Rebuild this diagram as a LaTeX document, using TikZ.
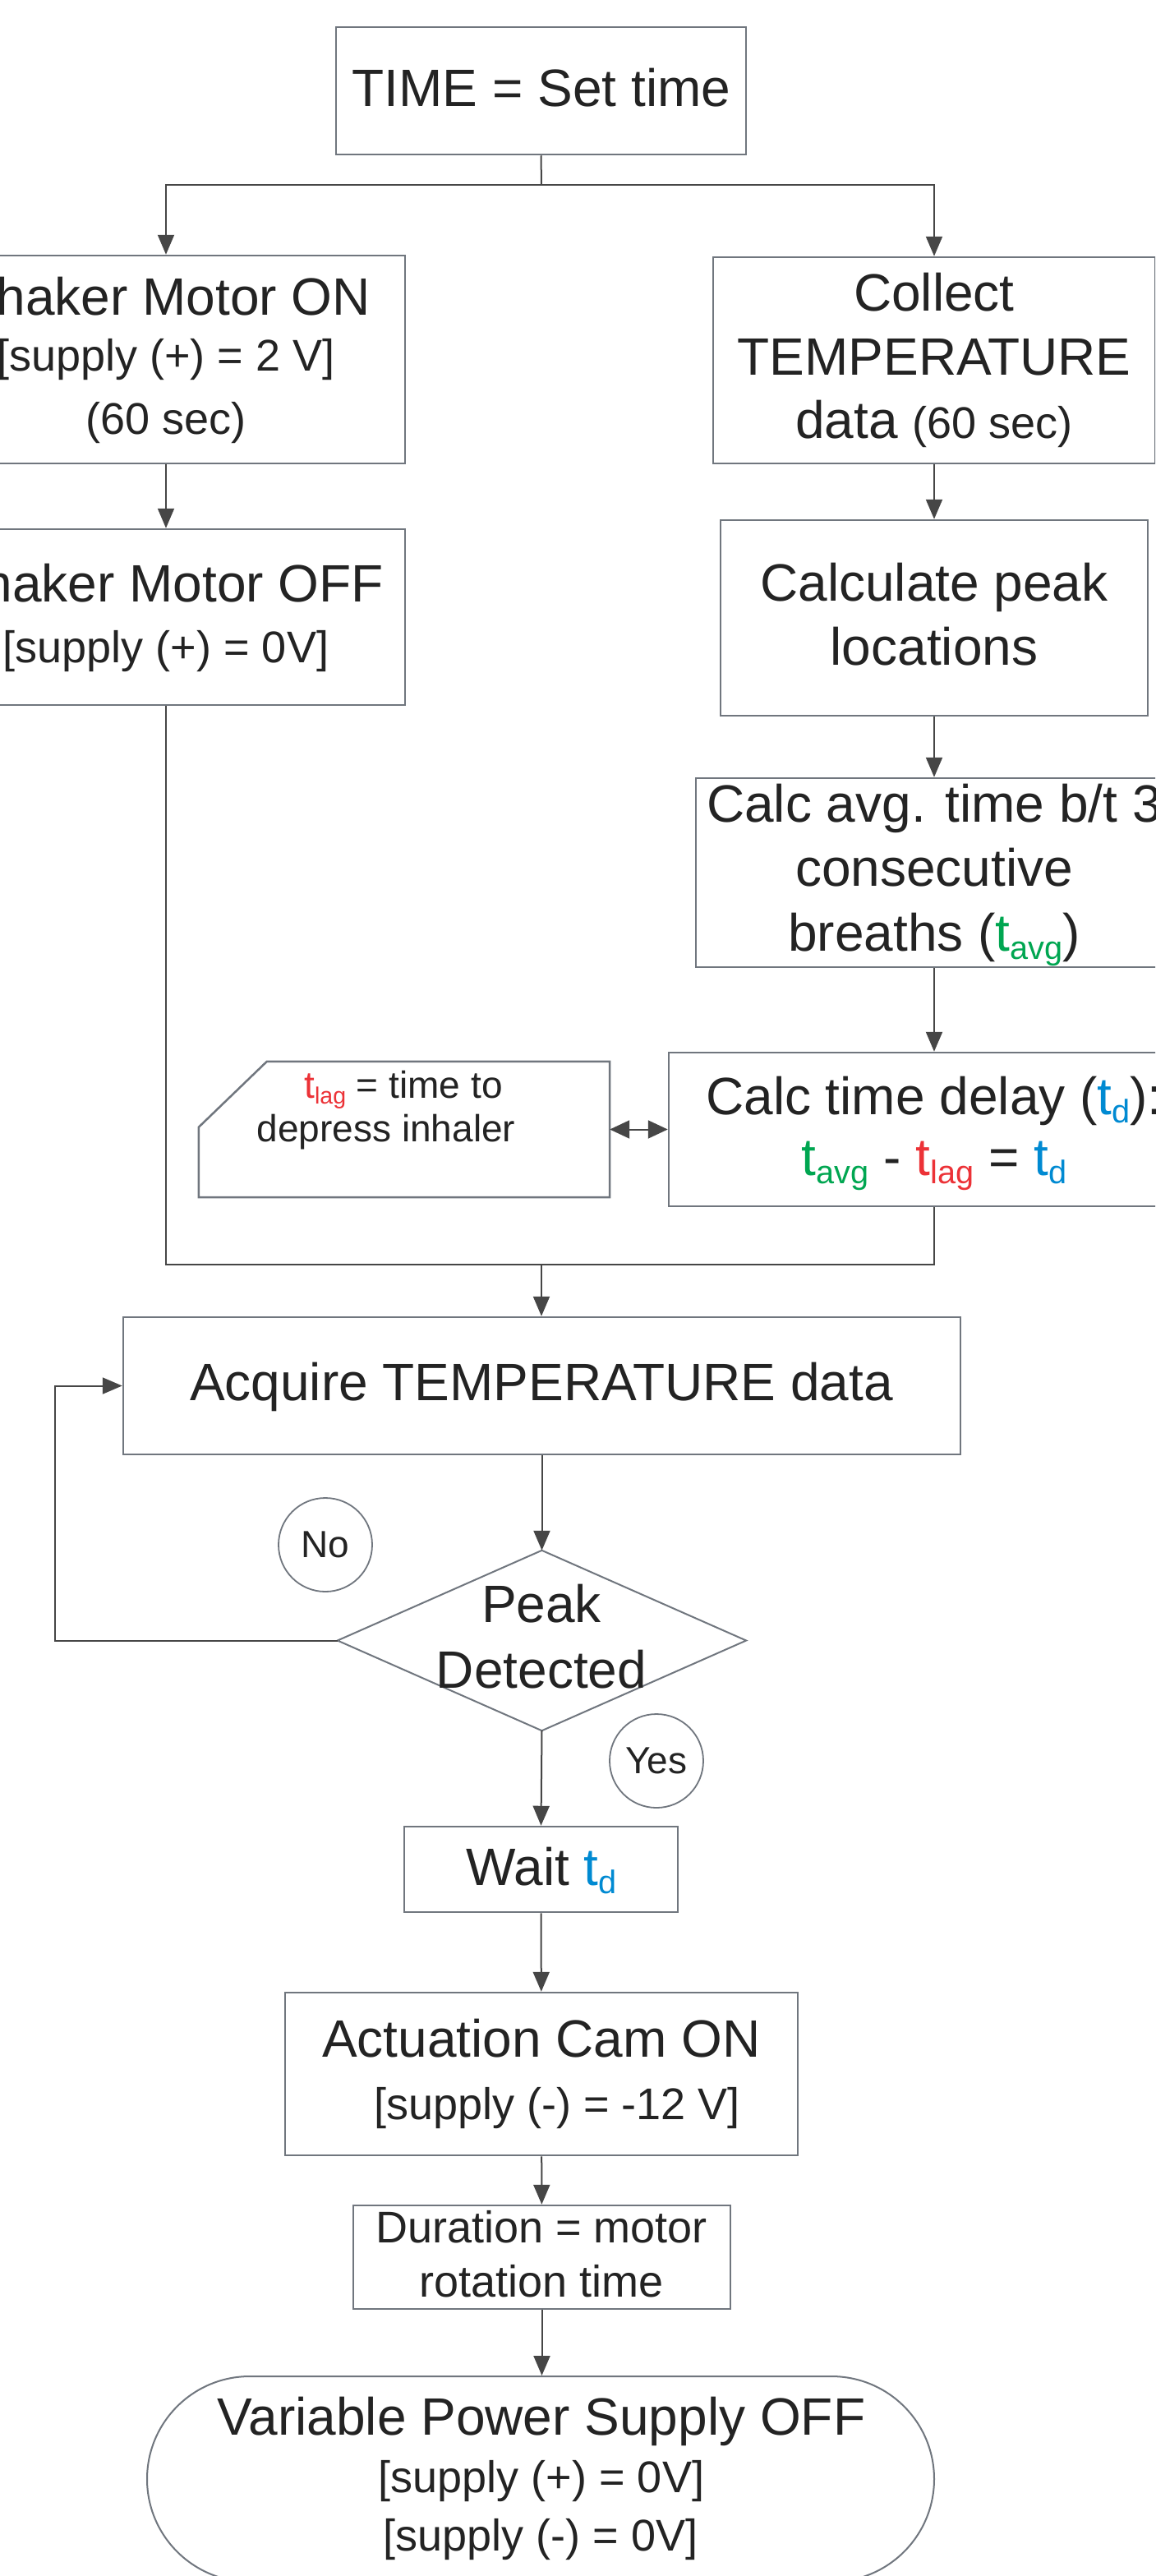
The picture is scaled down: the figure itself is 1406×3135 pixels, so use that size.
\documentclass[tikz,border=0pt]{standalone}
\usepackage{fontspec}
\setmainfont{Liberation Sans}
\usepackage{graphicx}
\usetikzlibrary{arrows.meta,shapes.misc}
\definecolor{boxc}{RGB}{112,118,126}
\definecolor{linec}{RGB}{70,70,70}
\definecolor{textc}{RGB}{35,35,35}
\definecolor{tgreen}{RGB}{0,166,81}
\definecolor{tred}{RGB}{236,50,55}
\definecolor{tblue}{RGB}{0,138,210}
\newcommand\fsL{\fontsize{64}{70}\selectfont}
\newcommand\fsM{\fontsize{54}{60}\selectfont}
\newcommand\fsS{\fontsize{46}{52}\selectfont}
\newcommand\tv[2]{\textcolor{#1}{t\raisebox{-0.16em}{\scalebox{0.62}{#2}}}}
\begin{document}
\begin{tikzpicture}[x=1pt,y=-1pt,
  shapeline/.style={draw=boxc, line width=2.5pt, fill=white},
  box/.style={shapeline, inner sep=0pt, rectangle},
  conn/.style={draw=linec, line width=2pt},
  arr/.style={conn, -{Triangle[length=24pt,width=20pt]}},
  dbl/.style={conn, {Triangle[length=24pt,width=22pt]}-{Triangle[length=24pt,width=22pt]}},
  txt/.style={inner sep=0pt, anchor=base, text=textc},
  bubble/.style={draw=boxc, line width=1.8pt, circle, minimum size=114pt, inner sep=0pt, text=textc, font=\fsS}]
\useasboundingbox (0,0) rectangle (1406,3135);
\clip (0,0) rectangle (1406,3135);
\fill[white] (0,0) rectangle (1406,3135);

% shapes
\node[box, minimum width=499pt, minimum height=155pt] (time) at (658.5,110.5) {};
\node[box, minimum width=582pt, minimum height=253pt] (shon) at (202,437.5) {};
\node[box, minimum width=582pt, minimum height=214pt] (shoff) at (202,751) {};
\node[box, minimum width=538pt, minimum height=251pt] (coll) at (1137,438.5) {};
\node[box, minimum width=520pt, minimum height=238pt] (peak) at (1137,752) {};
\node[box, minimum width=580pt, minimum height=230pt] (avg) at (1137,1062) {};
\node[box, minimum width=646pt, minimum height=187pt] (delay) at (1137,1374.5) {};
\node[inner sep=0pt, minimum width=500pt, minimum height=165pt] (lag) at (492,1374.5) {};
\draw[shapeline] ([xshift=83pt]lag.north west) -- (lag.north east) -- (lag.south east)
  -- (lag.south west) -- ([yshift=-80pt]lag.north west) -- cycle;
\node[box, minimum width=1019pt, minimum height=167pt] (acq) at (659.5,1686.5) {};
\node[inner sep=0pt, minimum width=497pt, minimum height=219pt] (det) at (659.5,1996.5) {};
\draw[shapeline, line width=2pt] (det.north) -- (det.east) -- (det.south) -- (det.west) -- cycle;
\node[bubble] (no) at (396,1880) {No};
\node[bubble] (yes) at (799,2143) {Yes};
\node[box, minimum width=333pt, minimum height=104pt] (wait) at (658.5,2275) {};
\node[box, minimum width=624pt, minimum height=198pt] (act) at (659,2524) {};
\node[box, minimum width=459pt, minimum height=126pt] (dur) at (659.5,2747) {};
\node[shapeline, line width=2pt, rounded rectangle, minimum width=958pt, minimum height=250pt, inner sep=0pt] (term) at (658,3017) {};

% connectors
\coordinate (split) at (659,225);
\draw[conn] (time.south) -- (split);
\draw[arr] (split) -| (shon.north);
\draw[arr] (split) -| (coll.north);
\draw[arr] (shon) -- (shoff);
\draw[arr] (coll) -- (peak);
\draw[arr] (peak) -- (avg);
\draw[arr] (avg) -- (delay);
\draw[dbl] (lag.east) -- (delay.west);
\coordinate (merge) at (659,1539);
\draw[conn] (shoff.south) |- (merge);
\draw[conn] (delay.south) |- (merge);
\draw[arr] (merge) -- (merge |- acq.north);
\draw[arr] (acq.south) -- (det.north);
\coordinate (loop) at (67,1996.5);
\draw[arr] (det.west) -- (loop) |- (acq.west);
\draw[arr] (det.south) -- (wait.north);
\draw[arr] (wait) -- (act);
\draw[arr] (act) -- (dur);
\draw[arr] (dur.south) -- (dur.south |- term.north);

% texts
\node[txt, font=\fsL] (timeT) at (659,129) {TIME = Set time};
\node[txt, font=\fsL] (shonT1) at (202,383) {Shaker Motor ON};
\node[txt, font=\fsM] (shonT2) at (202,451) {[supply (+) = 2 V]};
\node[txt, font=\fsM] (shonT3) at (202,528) {(60 sec)};
\node[txt, font=\fsL] (shoffT1) at (202,732) {Shaker Motor OFF};
\node[txt, font=\fsM] (shoffT2) at (202,806) {[supply (+) = 0V]};
\node[txt, font=\fsL] (collT1) at (1137,378) {Collect};
\node[txt, font=\fsL] (collT2) at (1137,456) {TEMPERATURE};
\node[txt, font=\fsL] (collT3) at (1137,533) {data {\fsM(60 sec)}};
\node[txt, font=\fsL] (peakT1) at (1137,731) {Calculate peak};
\node[txt, font=\fsL] (peakT2) at (1137,809) {locations};
\node[txt, font=\fsL] (avgT1) at (1137,1000) {Calc avg. time b/t 3};
\node[txt, font=\fsL] (avgT2) at (1137,1078) {consecutive};
\node[txt, font=\fsL] (avgT3) at (1137,1157) {breaths (\tv{tgreen}{avg})};
\node[txt, font=\fsL] (delayT1) at (1137,1356) {Calc time delay (\tv{tblue}{d}):};
\node[txt, font=\fsL] (delayT2) at (1137,1430) {\tv{tgreen}{avg} - \tv{tred}{lag} = \tv{tblue}{d}};
\node[txt, font=\fsS] (lagT1) at (491,1336) {\tv{tred}{lag} = time to};
\node[txt, font=\fsS] (lagT2) at (470,1389) {depress inhaler};
\node[txt, font=\fsL] (acqT) at (659,1704) {Acquire TEMPERATURE data};
\node[txt, font=\fsL] (detT1) at (659,1974) {Peak};
\node[txt, font=\fsL] (detT2) at (659,2054) {Detected};
\node[txt, font=\fsL] (waitT) at (659,2294) {Wait \tv{tblue}{d}};
\node[txt, font=\fsL] (actT1) at (659,2503) {Actuation Cam ON};
\node[txt, font=\fsM] (actT2) at (678,2579) {[supply (-) = -12 V]};
\node[txt, font=\fsM] (durT1) at (659,2729) {Duration = motor};
\node[txt, font=\fsM] (durT2) at (659,2795) {rotation time};
\node[txt, font=\fsL] (termT1) at (659,2963) {Variable Power Supply OFF};
\node[txt, font=\fsM] (termT2) at (659,3033) {[supply (+) = 0V]};
\node[txt, font=\fsM] (termT3) at (658,3104) {[supply (-) = 0V]};
\end{tikzpicture}
\end{document}
